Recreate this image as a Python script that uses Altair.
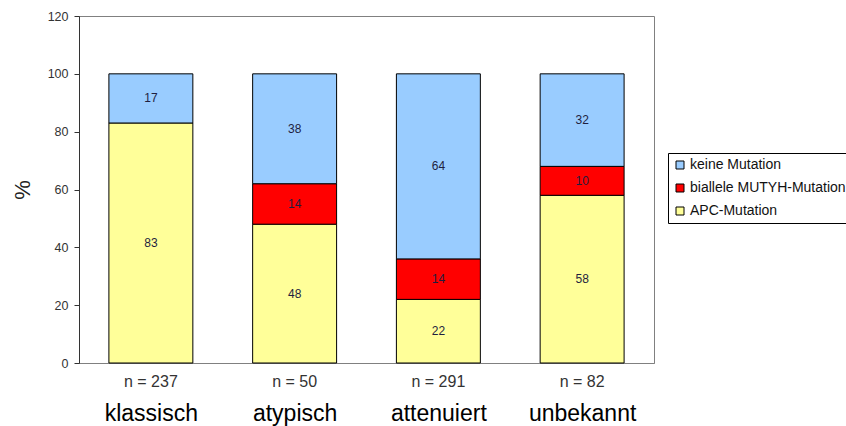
import altair as alt
import pandas as pd

categories = ["klassisch", "atypisch", "attenuiert", "unbekannt"]
n_labels = ["n = 237", "n = 50", "n = 291", "n = 82"]
series = ["keine Mutation", "biallele MUTYH-Mutation", "APC-Mutation"]
colors = ["#99CCFF", "#FF0000", "#FFFF99"]
apc = [83, 48, 22, 58]
mutyh = [0, 14, 14, 10]
keine = [17, 38, 64, 32]

rows = []
for i, c in enumerate(categories):
    for s, vals, order in [("APC-Mutation", apc, 0), ("biallele MUTYH-Mutation", mutyh, 1), ("keine Mutation", keine, 2)]:
        if vals[i] > 0:
            rows.append({"category": c, "nlabel": n_labels[i], "series": s, "value": vals[i], "order": order})
df = pd.DataFrame(rows)

ysc = alt.Scale(domain=[0, 120], nice=False)
xsc = alt.Scale(paddingInner=0.416, paddingOuter=0.208)

bars = alt.Chart(df).mark_bar(stroke="black", strokeWidth=1).encode(
    x=alt.X("nlabel:N", sort=n_labels, scale=xsc,
            axis=alt.Axis(title=None, orient="bottom", labelAngle=0, labelFontSize=16,
                          labelColor="#333333", labelPadding=10, ticks=False,
                          domainColor="#808080")),
    y=alt.Y("value:Q", stack="zero", scale=ysc,
            axis=alt.Axis(title="%", values=[0, 20, 40, 60, 80, 100, 120], grid=False,
                          labelFontSize=12.5, labelColor="#333333", tickColor="#333333",
                          tickSize=5, domainColor="#333333", labelPadding=6,
                          titleFontSize=22, titleFontWeight="normal", titleColor="#222222",
                          titlePadding=13)),
    color=alt.Color("series:N", scale=alt.Scale(domain=series, range=colors),
                    legend=alt.Legend(title=None, orient="none", legendX=589, legendY=137,
                                      strokeColor="black", fillColor="white", padding=5,
                                      labelFontSize=14, labelColor="#111111", labelOffset=3,
                                      symbolType="square", symbolSize=64,
                                      symbolStrokeColor="black", symbolStrokeWidth=1,
                                      rowPadding=9)),
    order=alt.Order("order:Q"),
)

texts = alt.Chart(df).transform_stack(
    stack="value", groupby=["category"], as_=["y0", "y1"], sort=[alt.SortField("order")]
).transform_calculate(mid="(datum.y0 + datum.y1) / 2").mark_text(
    fontSize=12, color="#1F1F3F"
).encode(
    x=alt.X("category:N", sort=categories, scale=xsc,
            axis=alt.Axis(title=None, orient="bottom", labelAngle=0, labelFontSize=23,
                          labelColor="black", labelPadding=39, ticks=False, domain=False)),
    y=alt.Y("mid:Q", scale=ysc),
    text=alt.Text("value:Q"),
)

chart = alt.layer(bars, texts).resolve_scale(x="independent").properties(
    width=575, height=347,
    autosize=alt.AutoSizeParams(type="none"),
    padding={"left": 79, "top": 16, "right": 192, "bottom": 63},
).configure(font="Liberation Sans").configure_view(stroke="#808080", strokeWidth=1)

chart.save("out.html", embed_options={"renderer": "svg", "actions": False})
